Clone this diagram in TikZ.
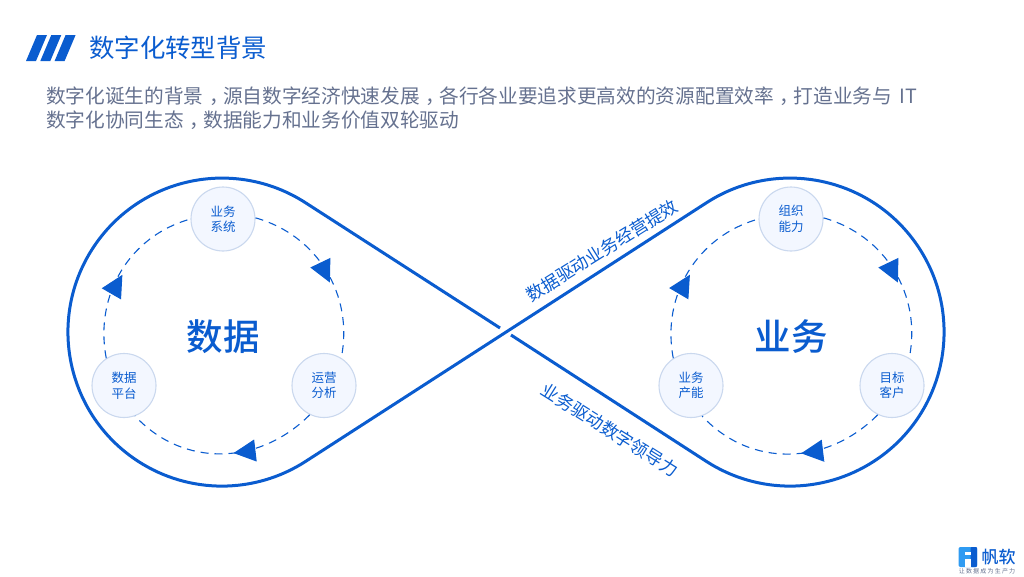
\documentclass[tikz,border=0pt]{standalone}
\usepackage{fontspec}
\setmainfont{Noto Sans CJK SC}
\newfontfamily\medio{Noto Sans CJK SC Medium}
\usetikzlibrary{arrows.meta, decorations.markings, positioning}
\definecolor{azul}{HTML}{0A5CCF}
\definecolor{azulclaro}{HTML}{2F9BF2}
\definecolor{grisazul}{HTML}{65718F}
\definecolor{bordeazul}{HTML}{CAD8EE}
\definecolor{fondoazul}{HTML}{F3F7FF}
\newcommand{\coma}{\hspace{6pt}，\hspace{-6pt}}
\tikzset{
  titulo/.style={font=\fontsize{25.4}{30}\selectfont, text=azul, inner sep=0pt, anchor=west},
  cuerpo/.style={font=\fontsize{19.67}{23.5}\selectfont, text=grisazul, inner sep=0pt, anchor=west, align=left},
  etapa/.style={circle, minimum size=64pt, inner sep=0pt, draw=bordeazul, fill=fondoazul, line width=1.1pt,
                text=azul, font=\fontsize{12.5}{15.5}\selectfont, align=center},
  centro/.style={font=\medio\fontsize{36.5}{40}\selectfont, text=azul, inner sep=0pt},
  lema/.style={font=\fontsize{17.5}{20}\selectfont, text=azul, inner sep=0pt},
  ocho/.style={draw=azul, line width=3pt},
  flujo/.style n args={2}{draw=azul, line width=1.1pt, dash pattern=on 8pt off 6pt, postaction={decorate},
                decoration={markings, mark=at position #1 with {\pgftransformyshift{#2pt}\arrow[solid]{Triangle[length=22pt,width=22pt]}}}}
}
\begin{document}
\begin{tikzpicture}[x=1pt, y=-1pt]
  \useasboundingbox (0,0) rectangle (1024,576);
  % encabezado
  \foreach \i in {0,1,2}
    \fill [azul] (26+14.3*\i,61) -- (37+14.3*\i,35) -- (47+14.3*\i,35) -- (36+14.3*\i,61) -- cycle;
  \node (titular) [titulo] at (89,48) {数字化转型背景};
  \node (texto) [cuerpo] at (46,108) {数字化诞生的背景\coma 源自数字经济快速发展\coma 各行各业要追求更高效的资源配置效率\coma 打造业务与\hspace{3pt} IT\\数字化协同生态\coma 数据能力和业务价值双轮驱动};
  % el ocho
  \draw [ocho] (500,328) -- (305.6,202.8) arc (-57.1:-302.9:154) -- (706.4,202.8) arc (-122.9:122.9:154) -- (511,335);
  % lado izquierdo
  \node (datos) [centro] at (223,337) {数据};
  \node (sistema) [etapa] at (223,219) {业务\\系统};
  \node (operacion) [etapa] at (324,385.5) {运营\\分析};
  \node (plataforma) [etapa] at (124,385.5) {数据\\平台};
  \draw [flujo={0.567}{-2.5}] (sistema.2) to[out=-15.6, in=78.5] (operacion.58);
  \draw [flujo={0.443}{0}] (operacion.244) to[out=-134.7, in=-47, looseness=1.04] (plataforma.-70);
  \draw [flujo={0.49}{-3}] (plataforma.123) to[out=101, in=195.6] (sistema.180);
  % lado derecho
  \node (negocio) [centro] at (791,337) {业务};
  \node (capacidad) [etapa] at (791,219) {组织\\能力};
  \node (cliente) [etapa] at (892,385.5) {目标\\客户};
  \node (productiva) [etapa] at (691,385.5) {业务\\产能};
  \draw [flujo={0.567}{-2.5}] (capacidad.2) to[out=-15.6, in=78.5] (cliente.58);
  \draw [flujo={0.443}{0}] (cliente.244) to[out=-134.7, in=-47, looseness=1.04] (productiva.-70);
  \draw [flujo={0.49}{-3}] (productiva.123) to[out=101, in=195.6] (capacidad.180);
  % lemas
  \node (lemaa) [lema, rotate=32] at (602,250.5) {数据驱动业务经营提效};
  \node (lemab) [lema, rotate=-32] at (610,430) {业务驱动数字领导力};
  % marca
  \fill [azulclaro, rounded corners=2pt] (958.5,547) rectangle (977,567);
  \fill [azul, rounded corners=1pt] (970.5,547) rectangle (977,567);
  \fill [white] (965,552) rectangle (970.5,555);
  \fill [white] (965,559) rectangle (970.5,567);
  \node (marca) [inner sep=0pt, text=azul, font=\medio\fontsize{17}{20}\selectfont] at (998.5,557) {帆软};
  \node (eslogan) [inner sep=0pt, text=grisazul, font=\fontsize{6}{7}\selectfont\addfontfeature{LetterSpace=20}] at (987,571) {让数据成为生产力};
\end{tikzpicture}
\end{document}
